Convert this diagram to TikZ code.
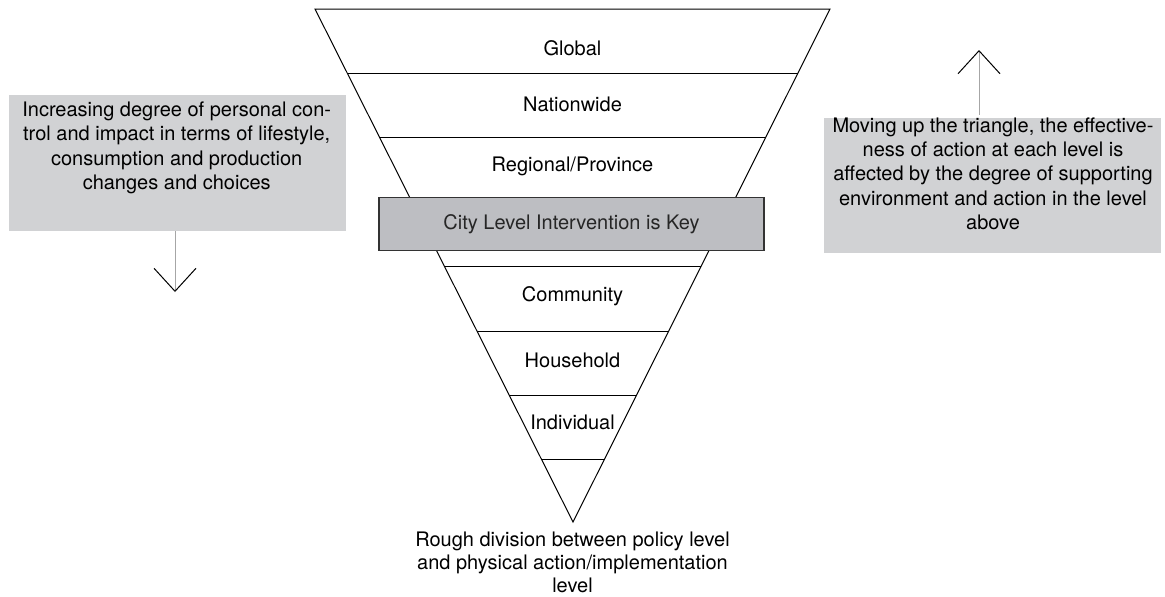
\documentclass[tikz,border=0pt]{standalone}
\usepackage{fontspec}
\setmainfont{TeX Gyre Heros}
\usetikzlibrary{calc,arrows.meta}
\definecolor{notegray}{RGB}{209,210,212}
\definecolor{keygray}{RGB}{189,190,194}
\begin{document}
\begin{tikzpicture}[x=0.5pt,y=-0.5pt]
	\tikzstyle{level}=[font=\fontsize{10}{12.2}\selectfont,anchor=base,inner sep=0pt]
	\tikzstyle{note}=[font=\fontsize{10}{12.2}\selectfont,align=center,anchor=north,inner sep=0pt]
	\tikzstyle{notebox}=[fill=notegray,inner sep=0pt,minimum width=168.5pt]
	\tikzstyle{key}=[draw=black!80,line width=0.8pt,fill=keygray,text=black!85,font=\fontsize{10}{12.2}\selectfont,inner sep=0pt,minimum width=192.5pt,minimum height=26.5pt]
	\tikzstyle{edge}=[draw,black!35,line width=0.5pt,-{Straight Barb[length=11.5pt,width=21pt,color=black,line width=0.5pt]}]
	\useasboundingbox (0,0) rectangle (1165,596);
	\begin{scope}[line width=0.5pt]
		\coordinate (tl) at (315,9);
		\coordinate (tr) at (830,9);
		\coordinate (ap) at (573,522);
		\draw (tl) -- (tr) -- (ap) -- cycle;
		\foreach \y in {73,137,266,331,395,459}
			\draw ($(tl)!{(\y-9)/513}!(ap)$) -- ($(tr)!{(\y-9)/513}!(ap)$);
	\end{scope}
	\node [level] (global) at (572.5,55) {Global};
	\node [level] (nation) at (572.5,111.7) {Nationwide};
	\node [level] (region) at (572.5,171.7) {Regional/Province};
	\node [key] (city) at (571.5,224) {City Level Intervention is Key};
	\node [level] (community) at (572.5,301.7) {Community};
	\node [level] (household) at (572.5,367.3) {Household};
	\node [level] (individual) at (572.5,429) {Individual};
	\node [note,font=\fontsize{10}{11.4}\selectfont] (bottom) at (572.5,532) {Rough division between policy level\\and physical action/implementation\\level};
	\begin{scope}
		\node [notebox,minimum height=68pt] (lbox) at (177.5,163) {};
		\node [note] (ltext) at (176.7,101.5) {Increasing degree of personal con-\\trol and impact in terms of lifestyle,\\consumption and production\\changes and choices};
		\coordinate (ldown) at (175,292);
		\path[edge] (lbox.south -| ldown) -- (ldown);
	\end{scope}
	\begin{scope}
		\node [notebox,minimum height=67.5pt] (rbox) at (992.5,185.5) {};
		\node [note] (rtext) at (993,117) {Moving up the triangle, the effective-\\ness of action at each level is\\affected by the degree of supporting\\environment and action in the level\\above};
		\coordinate (rup) at (979,50);
		\path[edge,shorten <=1.5pt] (rbox.north -| rup) -- (rup);
	\end{scope}
\end{tikzpicture}
\end{document}
